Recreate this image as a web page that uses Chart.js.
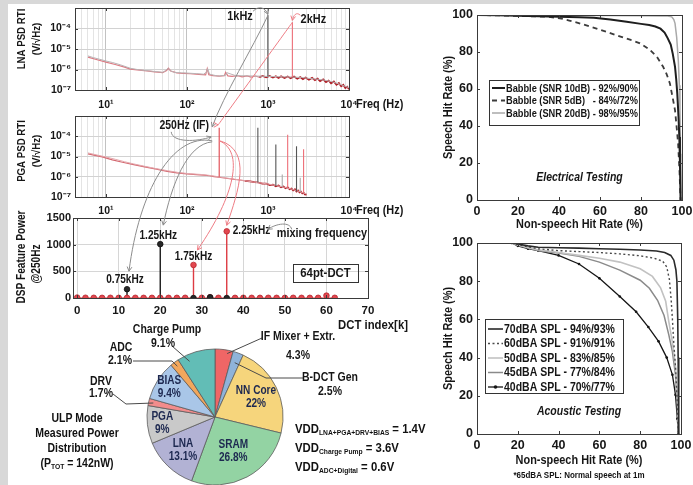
<!DOCTYPE html>
<html>
<head>
<meta charset="utf-8">
<title>ULP VAD measurements</title>
<script src="https://cdn.jsdelivr.net/npm/chart.js@4.4.1/dist/chart.umd.min.js"></script>
<style>
  html, body { margin: 0; padding: 0; }
  body { width: 693px; height: 485px; position: relative; overflow: hidden; background: #d8d8d8;
         font-family: 'Liberation Sans', Arial, sans-serif; color: #111; }
  #sheet { position: absolute; left: 8px; top: 4px; width: 685px; height: 481px; background: #fff; }
  canvas { position: absolute; }
  .note { position: absolute; font-weight: bold; white-space: nowrap; transform: scaleX(0.84); }
  .note sub { font-size: 8px; vertical-align: baseline; position: relative; top: 2px; }
</style>
</head>
<body>
<div id="sheet"></div>
<canvas id="lnaChart" width="420" height="112" style="left:0;top:0"></canvas>
<canvas id="pgaChart" width="420" height="112" style="left:0;top:110px"></canvas>
<canvas id="dctChart" width="420" height="135" style="left:0;top:200px"></canvas>
<canvas id="pieChart" width="150" height="150" style="left:140px;top:342px"></canvas>
<canvas id="elecChart" width="253" height="235" style="left:440px;top:0"></canvas>
<canvas id="acouChart" width="253" height="250" style="left:440px;top:235px"></canvas>
<canvas id="overlay" width="693" height="485" style="left:0;top:0"></canvas>

<div class="note" style="left:17px;top:411px;width:120px;text-align:center;font-size:12.5px;line-height:15px;transform-origin:60px 0">
  ULP Mode<br>Measured Power<br>Distribution<br>(P<sub>TOT</sub> = 142nW)
</div>
<div class="note" style="left:295px;top:420px;font-size:13.5px;line-height:17px;transform-origin:0 0">
  VDD<sub>LNA+PGA+DRV+BIAS</sub> = 1.4V<br>VDD<sub>Charge Pump</sub> = 3.6V<br>VDD<sub>ADC+Digital</sub> = 0.6V
</div>
<div class="note" style="left:479px;top:469px;width:200px;text-align:center;font-size:9.5px;transform-origin:100px 0">*65dBA SPL: Normal speech at 1m</div>

<script>
// ---------- LNA output, input referred (V/sqrt(Hz)) ----------
const lnaTraceAHz = [6, 7, 8, 10, 12, 15, 20, 25, 30, 40, 50, 55, 58, 62, 70, 85, 100, 130, 160, 175, 180, 190, 240, 280, 300, 310, 400, 550, 700, 1000, 1500, 2000, 2600, 3000, 4200, 5000, 6000, 6700, 8000, 9000, 10000];
const lnaTraceAV = [4.6e-6, 3.8e-6, 3.3e-6, 2.6e-6, 2.2e-6, 1.7e-6, 1.15e-6, 9.8e-7, 9.0e-7, 8.0e-7, 7.3e-7, 9.0e-7, 1.15e-6, 8.8e-7, 7.2e-7, 6.9e-7, 6.7e-7, 6.3e-7, 5.9e-7, 7.5e-7, 1.1e-6, 5.9e-7, 4.8e-7, 5.1e-7, 5.2e-7, 7.0e-7, 5.0e-7, 4.9e-7, 4.8e-7, 4.6e-7, 4.4e-7, 4.3e-7, 4.1e-7, 3.8e-7, 3.3e-7, 3.0e-7, 2.6e-7, 2.3e-7, 1.8e-7, 1.5e-7, 1.3e-7];
const lnaTraceBHz = [6, 8, 10, 13, 17, 20, 26, 32, 40, 50, 56, 59, 63, 75, 90, 110, 140, 170, 178, 186, 210, 250, 290, 300, 320, 360, 420, 480, 550, 620, 700, 780, 860, 950, 1050, 1150, 1250, 1350, 1450, 1600, 1750, 1900, 2100, 2300, 2500, 2700, 2900, 3200, 3500, 3800, 4100, 4400, 4800, 5200, 5600, 6000, 6500, 7000, 7500, 8000, 8500, 9000, 9500, 10000];
const lnaTraceBV = [4.0e-6, 2.9e-6, 2.3e-6, 1.75e-6, 1.3e-6, 1.05e-6, 9.3e-7, 8.5e-7, 7.6e-7, 7.0e-7, 9.0e-7, 1.15e-6, 8.5e-7, 6.8e-7, 6.4e-7, 6.2e-7, 5.8e-7, 5.5e-7, 1.1e-6, 5.6e-7, 5.0e-7, 4.7e-7, 5.0e-7, 7.2e-7, 4.9e-7, 4.6e-7, 5.0e-7, 4.4e-7, 4.9e-7, 4.3e-7, 4.8e-7, 4.2e-7, 4.9e-7, 4.1e-7, 4.8e-7, 4.0e-7, 4.7e-7, 3.9e-7, 4.7e-7, 3.8e-7, 4.6e-7, 3.7e-7, 4.5e-7, 3.5e-7, 4.3e-7, 3.4e-7, 4.1e-7, 3.2e-7, 3.9e-7, 3.0e-7, 3.6e-7, 2.7e-7, 3.3e-7, 2.4e-7, 2.9e-7, 2.1e-7, 2.6e-7, 1.8e-7, 2.2e-7, 1.5e-7, 1.8e-7, 1.25e-7, 1.45e-7, 1.1e-7];
const lnaToneHz = [1000, 2000];
const lnaTonePeak = [4.4e-4, 2.0e-4];
const lnaToneFloor = [4.6e-7, 4.3e-7];
const lnaToneSrc = ['lo', 'hi'];

// ---------- PGA output after IF mixing ----------
const pgaTraceAHz = [6, 8, 10, 13, 17, 22, 30, 40, 57, 80, 110, 148, 180, 216, 300, 384, 500, 700, 1000, 1300, 1600, 2000, 2500, 3000];
const pgaTraceAV = [1.5e-5, 1.15e-5, 9.5e-6, 7.3e-6, 5.5e-6, 4.3e-6, 3.3e-6, 2.6e-6, 2.0e-6, 1.6e-6, 1.4e-6, 1.3e-6, 1.2e-6, 1.08e-6, 8.8e-7, 7.6e-7, 6.5e-7, 5.3e-7, 4.4e-7, 3.6e-7, 3.0e-7, 2.4e-7, 1.8e-7, 1.4e-7];
const pgaTraceBHz = [6, 9, 12, 16, 22, 30, 42, 57, 75, 100, 130, 160, 190, 216, 260, 320, 384, 450, 520, 600, 680, 760, 850, 950, 1050, 1150, 1250, 1350, 1450, 1550, 1650, 1750, 1850, 1950, 2050, 2150, 2250, 2350, 2450, 2550, 2650, 2750, 2850, 3000];
const pgaTraceBV = [1.35e-5, 9.5e-6, 6.8e-6, 5.2e-6, 4.0e-6, 3.1e-6, 2.4e-6, 1.85e-6, 1.55e-6, 1.38e-6, 1.28e-6, 1.2e-6, 1.12e-6, 1.02e-6, 9.2e-7, 8.2e-7, 7.4e-7, 6.9e-7, 6.3e-7, 5.9e-7, 5.4e-7, 5.2e-7, 4.6e-7, 4.6e-7, 3.9e-7, 4.1e-7, 3.4e-7, 3.7e-7, 3.0e-7, 3.3e-7, 2.7e-7, 3.0e-7, 2.4e-7, 2.6e-7, 2.1e-7, 2.4e-7, 1.85e-7, 2.1e-7, 1.7e-7, 1.85e-7, 1.5e-7, 1.65e-7, 1.35e-7, 1.3e-7];
const pgaToneHz = [250, 750, 1250, 1500, 1750, 2250, 2500, 2750];
const pgaTonePeak = [2.6e-4, 2.6e-4, 3.9e-5, 1.3e-6, 1.2e-4, 3.2e-5, 9e-7, 2.3e-5];
const pgaToneFloor = [1.0e-6, 5.2e-7, 3.5e-7, 3.1e-7, 2.9e-7, 1.9e-7, 1.75e-7, 1.6e-7];
const pgaToneSrc = ['if', 'lo', 'lo', 'spur', 'hi', 'lo', 'spur', 'hi'];

const freqTicks = [10, 100, 1000, 10000];
const freqTickLabels = ['10¹', '10²', '10³', '10⁴'];
const psdTicks = [1e-7, 1e-6, 1e-5, 1e-4];
const psdTickLabels = ['10⁻⁷', '10⁻⁶', '10⁻⁵', '10⁻⁴'];

// ---------- 64pt DCT features @250Hz ----------
const dctRedK = [0, 2, 4, 6, 8, 10, 12, 14, 16, 18, 20, 22, 24, 26, 28, 30, 32, 34, 36, 38, 40, 42, 44, 46, 48, 50, 52, 54, 56, 58, 60, 62];
const dctRedPower = [8, 5, 4, 3, 4, 3, 3, 4, 3, 3, 4, 3, 3, 4, 620, 4, 12, 4, 1250, 3, 4, 3, 3, 4, 3, 3, 4, 3, 3, 4, 45, 4];
const dctBlackK = [12, 20, 28, 32, 36];
const dctBlackPower = [165, 1010, 0, 14, 0];
const dctToneK = [12, 20, 28, 36];
const dctToneLabels = ['0.75kHz', '1.25kHz', '1.75kHz', '2.25kHz'];
const dctTicksX = [0, 10, 20, 30, 40, 50, 60, 70];
const dctTicksY = [0, 500, 1000, 1500];

// ---------- power breakdown ----------
const pieParts = ['IF Mixer + Extr.', 'B-DCT Gen', 'NN Core', 'SRAM', 'LNA', 'PGA', 'DRV', 'BIAS', 'ADC', 'Charge Pump'];
const pieShare = [4.3, 2.5, 22, 26.8, 13.1, 9, 1.7, 9.4, 2.1, 9.1];

// ---------- ROC, electrical testing ----------
const elecX10 = [0, 10, 20, 30, 40, 50, 57, 65, 73, 80, 84, 87, 89.5, 91.5, 93, 94.5, 95.5, 96.6, 97.2, 97.7, 98.3, 98.7, 99, 99.3];
const elecY10 = [100, 99.8, 99.6, 99.3, 99, 98.8, 98.5, 97.6, 96.4, 95.2, 94.6, 93.8, 92.6, 90.5, 87.5, 84, 79, 72, 65, 57.5, 45, 34, 20, 0];
const elecX5 = [0, 10, 20, 30, 35, 40.5, 45, 50, 55, 60, 65, 70, 75, 79.5, 84, 87.7, 90.8, 92.5, 94.1, 95.5, 96.6, 97.5, 98.1, 98.8, 99.3];
const elecY5 = [100, 99.8, 99.5, 99.2, 99, 98.2, 97, 95.5, 93.8, 92, 90.2, 88.3, 86.5, 84.7, 81.5, 77.5, 72, 68, 63, 55, 48.5, 38, 30.5, 15, 0];
const elecX20 = [0, 20, 40, 60, 80, 90, 93, 95, 96, 96.6, 97.4, 98.2, 98.7, 99, 99.3, 99.5];
const elecY20 = [100, 99.9, 99.8, 99.7, 99.6, 99.5, 99.4, 99, 97.5, 95.5, 88, 75.5, 62, 48.5, 25, 0];
const elecLabels = ['Babble (SNR 10dB) - 92%/90%', 'Babble (SNR 5dB)   - 84%/72%', 'Babble (SNR 20dB) - 98%/95%'];

// ---------- ROC, acoustic testing ----------
const acouX70 = [17, 20, 25, 30, 40, 50, 60, 70, 80, 88, 92, 95, 96.5, 97.5, 98, 98.4, 98.6, 98.8, 99];
const acouY70 = [100, 99.5, 98.5, 97.8, 97.5, 97.3, 97, 96.7, 96.3, 95.8, 95, 93.5, 91, 86, 80, 60, 40, 20, 0];
const acouX60 = [17, 20, 25, 30, 40, 50, 60, 70, 80, 87, 91, 93, 94.3, 95.2, 95.8, 96.5, 97.3, 98, 98.5, 98.7];
const acouY60 = [100, 99.3, 98, 97, 96, 95.5, 95, 94.3, 93.3, 92, 90.5, 87.5, 81, 70, 60, 47, 35, 20, 5, 0];
const acouX50 = [17, 20, 25, 30, 40, 50, 60, 70, 80, 86, 90, 92.5, 94, 95.8, 97.3, 98.3, 99];
const acouY50 = [100, 99, 97.5, 96.5, 95, 93.5, 92, 90, 86.5, 82.5, 76.5, 69.5, 59, 48, 35, 18, 0];
const acouX45 = [17, 20, 25, 30, 40, 50, 60, 70, 80, 84.5, 88.5, 91.7, 94, 95.8, 97.3, 98.2, 98.7];
const acouY45 = [100, 99, 97.5, 96, 94.8, 93, 90, 85.8, 80.5, 76.3, 70, 62, 52, 43, 31, 15, 0];
const acouX40 = [17, 20, 25, 30, 40, 50, 60, 70, 78, 84, 89, 93, 95.8, 97.3, 98.2, 98.7];
const acouY40 = [100, 98.5, 97, 96, 93.5, 89, 81.5, 72, 64, 56, 48.5, 40, 31, 20.5, 8, 0];
const acouLabels = ['70dBA SPL - 94%/93%', '60dBA SPL - 91%/91%', '50dBA SPL - 83%/85%', '45dBA SPL - 77%/84%', '40dBA SPL - 70%/77%'];
const rocTicks = [0, 20, 40, 60, 80, 100];

// ---------- styling ----------
const FONT = "'Liberation Sans', Arial, sans-serif";
const SQUEEZE = 0.84;   // the figure's lettering is condensed
Chart.defaults.font.family = FONT;
Chart.defaults.font.weight = 'bold';
Chart.defaults.color = '#161616';
Chart.defaults.animation = false;
Chart.defaults.responsive = false;
Chart.defaults.events = [];
Chart.defaults.plugins.legend.display = false;
Chart.defaults.plugins.tooltip.enabled = false;

const toneColors = { lo: '#555555', hi: '#ee6f78', if: '#e0434b', spur: '#aaaaaa' };
const pieColors = ['#ef6666', '#8fb3d9', '#f6d57c', '#93d3a3', '#b2b2d4', '#c9c9c9', '#f28c8c', '#a9c6e8', '#f2a75c', '#62bdb6'];

function squeezed(ctx, s, x, y, size, opt = {}) {
    ctx.save();
    ctx.translate(x, y);
    if (opt.rot) ctx.rotate(opt.rot);
    ctx.scale(SQUEEZE, 1);
    ctx.font = `${opt.italic ? 'italic ' : ''}bold ${size}px ${FONT}`;
    ctx.fillStyle = opt.color || '#161616';
    ctx.textAlign = opt.align || 'center';
    ctx.textBaseline = 'middle';
    ctx.fillText(s, 0, 0);
    ctx.restore();
}

// force the axis boxes so the plot areas line up with the figure
function pinned(yw, xh) {
    return {
        y: s => { s.width = yw; s.paddingTop = 0; s.paddingBottom = 0; },
        x: s => { s.height = xh; s.paddingLeft = 0; s.paddingRight = 0; }
    };
}
function labelFor(vals, labs, v) {
    const i = vals.findIndex(t => Math.abs(Math.log10(t) - Math.log10(v)) < 1e-6);
    return i < 0 ? '' : labs[i];
}

// box round the plot area with little inward ticks (matlab look)
const framePlugin = {
    id: 'frame',
    afterDatasetsDraw(chart) {
        const { ctx, chartArea: a, scales } = chart;
        ctx.save();
        ctx.strokeStyle = '#3a3a3a';
        ctx.lineWidth = 1;
        ctx.strokeRect(Math.round(a.left) + 0.5, Math.round(a.top) + 0.5, Math.round(a.right - a.left), Math.round(a.bottom - a.top));
        ctx.beginPath();
        scales.x.ticks.forEach(t => {
            if (!t.label) return;
            const x = Math.round(scales.x.getPixelForValue(t.value)) + 0.5;
            ctx.moveTo(x, a.bottom); ctx.lineTo(x, a.bottom - 3);
            ctx.moveTo(x, a.top); ctx.lineTo(x, a.top + 3);
        });
        scales.y.ticks.forEach(t => {
            if (!t.label) return;
            const y = Math.round(scales.y.getPixelForValue(t.value)) + 0.5;
            ctx.moveTo(a.left, y); ctx.lineTo(a.left + 3, y);
            ctx.moveTo(a.right, y); ctx.lineTo(a.right - 3, y);
        });
        ctx.stroke();
        ctx.restore();
    }
};

// axis titles drawn condensed at fixed spots
const sideTitlePlugin = {
    id: 'sideTitle',
    afterDraw(chart, args, o) {
        o.lines.forEach((s, i) => squeezed(chart.ctx, s, o.x[i], o.y[i], o.size, { rot: -Math.PI / 2 }));
    }
};

// "Freq (Hz)" right after the last tick label
const freqNotePlugin = {
    id: 'freqNote',
    afterDraw(chart) {
        const { scales: { x }, chartArea: a } = chart;
        squeezed(chart.ctx, 'Freq (Hz)', x.right + 7, a.bottom + chart.options.scales.x.ticks.padding + 5, 13, { align: 'left' });
    }
};

function psdChart(id, traces, tones, side, xh, pad, tickPad) {
    const sets = [];
    tones.hz.forEach((f, i) => sets.push({
        data: [{ x: f, y: tones.floor[i] }, { x: f, y: tones.peak[i] }],
        borderColor: toneColors[tones.src[i]], borderWidth: 1.1, pointRadius: 0, showLine: true
    }));
    traces.forEach(t => sets.push({
        data: t.hz.map((f, i) => ({ x: f, y: t.v[i] })),
        borderColor: t.color, borderWidth: t.width, pointRadius: 0, showLine: true,
        segment: t.hot ? {
            borderColor: c => c.p0.parsed.x > t.hot ? t.hotColor : t.color,
            borderWidth: c => c.p0.parsed.x > t.hot ? 1.7 : t.width
        } : undefined
    }));
    const freqGrid = [];
    for (let d = 1; d <= 1000; d *= 10) for (let m = 1; m <= 9; m++) if (m * d > 4.15) freqGrid.push(m * d);
    freqGrid.push(10000);
    const fit = pinned(75, xh);
    return new Chart(document.getElementById(id), {
        type: 'scatter',
        data: { datasets: sets },
        options: {
            devicePixelRatio: 1,
            layout: { padding: pad },
            scales: {
                x: {
                    type: 'logarithmic', min: 4.15, max: 10000, afterFit: fit.x,
                    afterBuildTicks: s => { s.ticks = freqGrid.map(v => ({ value: v })); },
                    ticks: { autoSkip: false, maxRotation: 0, padding: tickPad, font: { size: 10.5 },
                             callback: v => labelFor(freqTicks, freqTickLabels, v) },
                    grid: { drawTicks: false, color: c => (c.tick && freqTicks.includes(c.tick.value)) ? '#c2c2c2' : '#e4e4e4' },
                    border: { display: false }
                },
                y: {
                    type: 'logarithmic', min: 1e-7, max: 1e-3, afterFit: fit.y,
                    afterBuildTicks: s => { s.ticks = psdTicks.map(v => ({ value: v })); },
                    ticks: { padding: 4, font: { size: 10.5 }, callback: v => labelFor(psdTicks, psdTickLabels, v) },
                    grid: { drawTicks: false, color: '#d2d2d2' },
                    border: { display: false }
                }
            },
            plugins: { sideTitle: side }
        },
        plugins: [framePlugin, sideTitlePlugin, freqNotePlugin]
    });
}

const lnaChart = psdChart('lnaChart',
    [{ hz: lnaTraceAHz, v: lnaTraceAV, color: '#b9b3b5', width: 1 },
     { hz: lnaTraceBHz, v: lnaTraceBV, color: '#dc7a82', width: 1.2, hot: 700, hotColor: '#b01f27' }],
    { hz: lnaToneHz, peak: lnaTonePeak, floor: lnaToneFloor, src: lnaToneSrc },
    { lines: ['LNA PSD RTI', '(V/√Hz)'], x: [22, 37], y: [39, 39], size: 11.5 },
    22, { left: 0, top: 8, right: 71, bottom: 0 }, 9);

const pgaChart = psdChart('pgaChart',
    [{ hz: pgaTraceAHz, v: pgaTraceAV, color: '#e3a6ab', width: 1 },
     { hz: pgaTraceBHz, v: pgaTraceBV, color: '#d46a72', width: 1.2, hot: 500, hotColor: '#b01f27' }],
    { hz: pgaToneHz, peak: pgaTonePeak, floor: pgaToneFloor, src: pgaToneSrc },
    { lines: ['PGA PSD RTI', '(V/√Hz)'], x: [22, 37], y: [41, 41], size: 11.5 },
    25, { left: 0, top: 6, right: 71, bottom: 0 }, 8);

// ---------- DCT stem plot ----------
const stemPlugin = {
    id: 'stems',
    beforeDatasetsDraw(chart) {
        const { ctx, scales: { x, y } } = chart;
        const y0 = y.getPixelForValue(0);
        ctx.save();
        ctx.strokeStyle = '#dd3b43';
        ctx.lineWidth = 1.2;
        ctx.beginPath();
        ctx.moveTo(x.getPixelForValue(dctRedK[0]), y0);
        ctx.lineTo(x.getPixelForValue(dctRedK[dctRedK.length - 1]), y0);
        ctx.stroke();
        chart.data.datasets.forEach((ds, di) => {
            ctx.strokeStyle = ds.borderColor;
            ctx.lineWidth = 1.4;
            chart.getDatasetMeta(di).data.forEach(el => {
                ctx.beginPath(); ctx.moveTo(el.x, y0); ctx.lineTo(el.x, el.y); ctx.stroke();
            });
        });
        ctx.restore();
    }
};
const dctFit = pinned(73, 37);
const dctChart = new Chart(document.getElementById('dctChart'), {
    type: 'scatter',
    data: {
        datasets: [
            { data: dctBlackK.map((k, i) => ({ x: k, y: dctBlackPower[i] })), borderColor: '#1c1c1c',
              pointBackgroundColor: '#262626', pointBorderColor: '#111', pointRadius: 2.8, pointBorderWidth: 0.8 },
            { data: dctRedK.map((k, i) => ({ x: k, y: dctRedPower[i] })), borderColor: '#dd3b43',
              pointBackgroundColor: '#e2474f', pointBorderColor: '#b8272e', pointRadius: 2.8, pointBorderWidth: 0.8 }
        ]
    },
    options: {
        devicePixelRatio: 1,
        layout: { padding: { left: 0, top: 18, right: 52, bottom: 0 } },
        scales: {
            x: {
                type: 'linear', min: -1, max: 70, afterFit: dctFit.x,
                afterBuildTicks: s => { s.ticks = dctTicksX.map(v => ({ value: v })); },
                ticks: { padding: 6, font: { size: 11.5 }, maxRotation: 0, callback: v => String(v) },
                grid: { drawTicks: false, color: '#d6d6d6' }, border: { display: false }
            },
            y: {
                type: 'linear', min: 0, max: 1500, afterFit: dctFit.y,
                afterBuildTicks: s => { s.ticks = dctTicksY.map(v => ({ value: v })); },
                ticks: { padding: 2, font: { size: 11 }, callback: v => String(v) },
                grid: { drawTicks: false, color: '#d6d6d6' }, border: { display: false }
            }
        },
        plugins: { sideTitle: { lines: ['DSP Feature Power', '@250Hz'], x: [22, 37], y: [57, 64], size: 12 } }
    },
    plugins: [framePlugin, stemPlugin, sideTitlePlugin]
});

// ---------- pie ----------
const pieInsideFrac = { 2: 0.67, 3: 0.57, 4: 0.68, 5: 0.78, 7: 0.8 };
const pieInsidePlugin = {
    id: 'pieInside',
    afterDatasetsDraw(chart) {
        chart.getDatasetMeta(0).data.forEach((arc, i) => {
            const f = pieInsideFrac[i];
            if (!f) return;
            const mid = (arc.startAngle + arc.endAngle) / 2;
            const cx = arc.x + Math.cos(mid) * arc.outerRadius * f;
            const cy = arc.y + Math.sin(mid) * arc.outerRadius * f;
            squeezed(chart.ctx, pieParts[i], cx, cy - 6.5, 12, { color: '#1d2850' });
            squeezed(chart.ctx, pieShare[i] + '%', cx, cy + 6.5, 12, { color: '#1d2850' });
        });
    }
};
const pieChart = new Chart(document.getElementById('pieChart'), {
    type: 'pie',
    data: { labels: pieParts, datasets: [{ data: pieShare, backgroundColor: pieColors, borderColor: '#5c5c5c', borderWidth: 0.8 }] },
    options: { devicePixelRatio: 1, radius: 68, layout: { padding: 0 } },
    plugins: [pieInsidePlugin]
});

// ---------- ROC charts ----------
const rocLegendPlugin = {
    id: 'rocLegend',
    afterDatasetsDraw(chart, args, o) {
        const ctx = chart.ctx;
        ctx.save();
        ctx.fillStyle = '#fff';
        ctx.fillRect(o.left, o.top, o.w, o.h);
        ctx.strokeStyle = '#333';
        ctx.lineWidth = 1;
        ctx.strokeRect(o.left + 0.5, o.top + 0.5, o.w, o.h);
        chart.data.datasets.forEach((ds, i) => {
            const y = o.top + o.first + i * o.step;
            ctx.strokeStyle = ds.borderColor;
            ctx.lineWidth = ds.borderWidth;
            ctx.setLineDash(ds.borderDash || []);
            ctx.beginPath(); ctx.moveTo(o.left + 3, y); ctx.lineTo(o.left + 3 + o.sample, y); ctx.stroke();
            ctx.setLineDash([]);
            if (ds.pointRadius > 0) {
                ctx.fillStyle = ds.borderColor;
                ctx.beginPath(); ctx.arc(o.left + 3 + o.sample / 2, y, 1.8, 0, 2 * Math.PI); ctx.fill();
            }
            squeezed(ctx, ds.label, o.left + 4 + o.sample, y + 0.5, o.size, { align: 'left' });
        });
        ctx.restore();
    }
};
const rocTextPlugin = {
    id: 'rocText',
    afterDraw(chart, args, o) {
        const { ctx, scales: { x, y }, chartArea: a } = chart;
        squeezed(ctx, o.caption, x.getPixelForValue(o.at[0]), y.getPixelForValue(o.at[1]), 12.5, { italic: true });
        squeezed(ctx, 'Non-speech Hit Rate (%)', (a.left + a.right) / 2, o.xTitleY, 13);
        squeezed(ctx, 'Speech Hit Rate (%)', 8, (a.top + a.bottom) / 2, 13, { rot: -Math.PI / 2 });
    }
};
function rocChart(id, series, labels, pad, xh, legend, text) {
    const fit = pinned(37, xh);
    return new Chart(document.getElementById(id), {
        type: 'scatter',
        data: {
            datasets: series.map((s, i) => ({
                label: labels[i],
                data: s.x.map((v, j) => ({ x: v, y: s.y[j] })),
                showLine: true, borderColor: s.color, borderWidth: s.width, borderDash: s.dash || [],
                pointRadius: s.dots ? 1.3 : 0, pointBackgroundColor: s.color, pointBorderWidth: 0
            }))
        },
        options: {
            devicePixelRatio: 1,
            layout: { padding: pad },
            scales: {
                x: {
                    type: 'linear', min: 0, max: 100, afterFit: fit.x,
                    afterBuildTicks: s => { s.ticks = rocTicks.map(v => ({ value: v })); },
                    ticks: { padding: 4, font: { size: 12.5 }, maxRotation: 0 },
                    grid: { display: false, drawTicks: false }, border: { display: false }
                },
                y: {
                    type: 'linear', min: 0, max: 100, afterFit: fit.y,
                    afterBuildTicks: s => { s.ticks = rocTicks.map(v => ({ value: v })); },
                    ticks: { padding: 4, font: { size: 12.5 } },
                    grid: { display: false, drawTicks: false }, border: { display: false }
                }
            },
            plugins: { rocLegend: legend, rocText: text }
        },
        plugins: [framePlugin, rocLegendPlugin, rocTextPlugin]
    });
}
const elecChart = rocChart('elecChart', [
    { x: elecX10, y: elecY10, color: '#1e1e1e', width: 2 },
    { x: elecX5, y: elecY5, color: '#3c3c3c', width: 1.8, dash: [5, 4] },
    { x: elecX20, y: elecY20, color: '#a9a9a9', width: 1.5 }
], elecLabels, { left: 0, top: 15, right: 11, bottom: 4 }, 31,
    { left: 49, top: 80, w: 150, h: 45, first: 8, step: 12.5, sample: 13, size: 11 },
    { caption: 'Electrical Testing', at: [50, 12], xTitleY: 224 });

const acouChart = rocChart('acouChart', [
    { x: acouX70, y: acouY70, color: '#2a2a2a', width: 1.6 },
    { x: acouX60, y: acouY60, color: '#4a4a4a', width: 1.4, dash: [2, 2.5] },
    { x: acouX50, y: acouY50, color: '#c2c2c2', width: 1.6 },
    { x: acouX45, y: acouY45, color: '#8a8a8a', width: 1.5 },
    { x: acouX40, y: acouY40, color: '#151515', width: 1.3, dots: true }
], acouLabels, { left: 0, top: 8, right: 12, bottom: 18 }, 33,
    { left: 45, top: 84, w: 138, h: 74, first: 10, step: 14.5, sample: 15, size: 12.5 },
    { caption: 'Acoustic Testing', at: [50, 11.5], xTitleY: 225 });

// ---------- overlay: mixing arrows, stem labels, pie callouts ----------
function at(chart, xv, yv) {
    const c = chart.canvas;
    return [c.offsetLeft + chart.scales.x.getPixelForValue(xv), c.offsetTop + chart.scales.y.getPixelForValue(yv)];
}
const add = (p, dx, dy) => [p[0] + dx, p[1] + dy];
function powerAt(k) {
    const b = dctBlackK.indexOf(k);
    if (b >= 0 && dctBlackPower[b] > 50) return dctBlackPower[b];
    return dctRedPower[dctRedK.indexOf(k)];
}
function slicePoint(chart, i, frac, rf) {
    const a = chart.getDatasetMeta(0).data[i];
    const ang = a.startAngle + (a.endAngle - a.startAngle) * frac;
    return [chart.canvas.offsetLeft + a.x + Math.cos(ang) * a.outerRadius * rf,
            chart.canvas.offsetTop + a.y + Math.sin(ang) * a.outerRadius * rf];
}

const ov = document.getElementById('overlay').getContext('2d');
function arrow(p0, c1, c2, p3, color) {
    ov.save();
    ov.strokeStyle = color;
    ov.lineWidth = 1;
    ov.beginPath();
    ov.moveTo(p0[0], p0[1]);
    ov.bezierCurveTo(c1[0], c1[1], c2[0], c2[1], p3[0], p3[1]);
    ov.stroke();
    const ang = Math.atan2(p3[1] - c2[1], p3[0] - c2[0]);
    ov.beginPath();
    ov.moveTo(p3[0] - 5 * Math.cos(ang - 0.5), p3[1] - 5 * Math.sin(ang - 0.5));
    ov.lineTo(p3[0], p3[1]);
    ov.lineTo(p3[0] - 5 * Math.cos(ang + 0.5), p3[1] - 5 * Math.sin(ang + 0.5));
    ov.stroke();
    ov.restore();
}
const text = (s, p, size, align) => squeezed(ov, s, p[0], p[1], size, { align });
const GRAY = '#8c8c8c', PINK = '#ee7c84';

const T1 = at(lnaChart, lnaToneHz[0], lnaTonePeak[0]);
const T2 = at(lnaChart, lnaToneHz[1], lnaTonePeak[1]);
const TIF = at(pgaChart, pgaToneHz[0], pgaTonePeak[0]);
const S = dctToneK.map(k => at(dctChart, k, powerAt(k)));

// input tones -> IF
arrow(T1, add(T1, -16, 34), add(T1, -44, 79), add(TIF, -7, -1), GRAY);
arrow(T2, T2, add(TIF, -1, -3), add(TIF, -1, -3), PINK);
arrow(add(T1, -15, -4), add(T1, -9, -10), add(T1, -3, -8), add(T1, 0, -1), GRAY);
arrow(add(T2, 8, -7), add(T2, 4, -11), add(T2, 1, -7), add(T2, 0, -2), PINK);
text('1kHz', add(T1, -28, 1), 13);
text('2kHz', add(T2, 21, -3), 13);
text('250Hz (IF)', add(TIF, -35, -2), 12.5);
arrow(add(TIF, -48, 4), add(TIF, -47, 15), add(TIF, -22, 14), add(TIF, -8, 9), GRAY);

// IF products -> DCT bins
const L = [add(S[0], -2, -10), add(S[1], -2, -8), add(S[2], 0, -8)];
const g0 = add(TIF, -7, 13), r0 = add(TIF, 0, 13);
let e = add(L[0], 4, -8);
arrow(g0, add(g0, -40, -8), add(e, 10, -80), e, GRAY);
e = add(L[1], 5, -11);
arrow(add(g0, 0, 1), add(g0, -25, 3), add(e, 8, -40), e, GRAY);
e = add(L[2], 4, -7);
arrow(r0, add(r0, 25, 10), add(e, 38, -55), e, PINK);
e = add(S[3], 0, -6);
arrow(add(r0, 1, 0), add(r0, 33, 10), add(e, 12, -35), e, PINK);
L.forEach((p, i) => text(dctToneLabels[i], p, 12));
text(dctToneLabels[3], add(S[3], 6, -1), 12, 'left');
const mf = add(S[3], 50, 2);
text('mixing frequency', mf, 13, 'left');
arrow(add(mf, 15, -4), add(mf, 13, -12), add(mf, 0, -10), add(mf, -9, -4), GRAY);

// DCT box + axis title
const da = dctChart.chartArea, dTop = dctChart.canvas.offsetTop;
ov.strokeStyle = '#333';
ov.lineWidth = 1;
ov.strokeRect(Math.round(da.right - 75) + 0.5, dTop + da.top + 46.5, 65, 18);
text('64pt-DCT', [da.right - 42.5, dTop + da.top + 55.5], 13.5);
text('DCT index[k]', [373, 325], 13.5);

// pie call-outs
const callouts = [
    { i: 0, name: [298, 337], pct: [298, 356], path: [[262, 338]], frac: 0.7, rf: 0.95 },
    { i: 1, name: [330, 378], pct: [330, 392], path: [[304, 378], [266, 378]], frac: 0.5, rf: 0.85 },
    { i: 6, name: [101, 382], pct: [101, 394], path: [[113, 394], [126, 404]], frac: 0.5, rf: 0.93 },
    { i: 8, name: [121, 348], pct: [120, 361], path: [[133, 361], [172, 361]], frac: 0.5, rf: 0.93 },
    { i: 9, name: [167, 330], pct: [163, 344], path: [[172, 346]], frac: 0.25, rf: 0.9 }
];
ov.save();
ov.strokeStyle = '#4a4a4a';
ov.lineWidth = 1;
callouts.forEach(c => {
    const end = slicePoint(pieChart, c.i, c.frac, c.rf);
    ov.beginPath();
    ov.moveTo(c.path[0][0], c.path[0][1]);
    c.path.slice(1).forEach(p => ov.lineTo(p[0], p[1]));
    ov.lineTo(end[0], end[1]);
    ov.stroke();
    text(pieParts[c.i], c.name, 12.5);
    text(pieShare[c.i] + '%', c.pct, 12.5);
});
ov.restore();
</script>
</body>
</html>
